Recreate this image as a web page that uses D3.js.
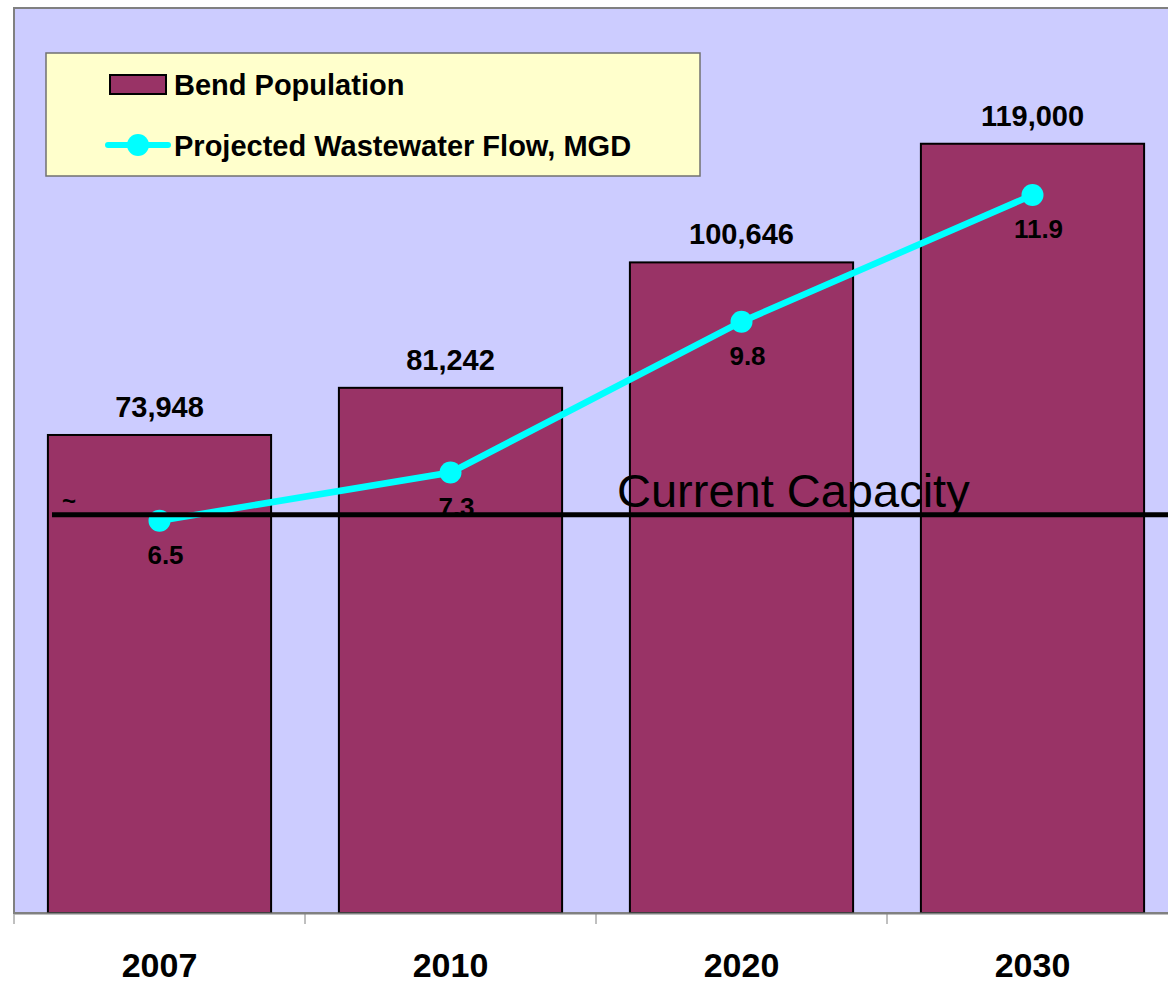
<html>
    <head>
       <style>
body {
    margin: 0;
    background: #fff;
}
svg text {
    font-family: "Liberation Sans", Arial, sans-serif;
}
       </style>
    </head>
    <body>
        <svg></svg>
        <script src="https://cdn.jsdelivr.net/npm/d3@7/dist/d3.min.js"></script>
        <script>
var years = ["2007", "2010", "2020", "2030"];
var population = [73948, 81242, 100646, 119000];
var flow = [6.5, 7.3, 9.8, 11.9];
var capacity = 6.6;
var popDomain = [0, 140000];
var flowDomain = [0, 15];

var width = 1168, height = 998;
var plotLeft = 14, plotTop = 8, plotBottom = 913, plotRight = 1178;

var svg = d3.select("svg")
    .attr("width", width)
    .attr("height", height);

var x = d3.scaleBand()
    .domain(years)
    .range([plotLeft, plotRight])
    .paddingInner(0.233)
    .paddingOuter(0.1165);

var xTick = d3.scaleBand().domain(years).range([plotLeft, plotRight]);

var y = d3.scaleLinear().domain(popDomain).range([plotBottom, plotTop]);
var y2 = d3.scaleLinear().domain(flowDomain).range([plotBottom, plotTop]);

// plot area
svg.append("rect")
    .attr("x", plotLeft).attr("y", plotTop)
    .attr("width", plotRight - plotLeft + 20).attr("height", plotBottom - plotTop)
    .attr("fill", "#ccccff")
    .attr("stroke", "#808080")
    .attr("stroke-width", 2);

// bars
svg.selectAll(".bar")
    .data(population)
  .enter().append("rect")
    .attr("class", "bar")
    .attr("x", function(d, i) { return x(years[i]); })
    .attr("y", function(d) { return y(d); })
    .attr("width", x.bandwidth())
    .attr("height", function(d) { return plotBottom - y(d); })
    .attr("fill", "#993366")
    .attr("stroke", "#000")
    .attr("stroke-width", 2);

svg.selectAll(".poplabel")
    .data(population)
  .enter().append("text")
    .attr("x", function(d, i) { return x(years[i]) + x.bandwidth() / 2; })
    .attr("y", function(d) { return y(d) - 18; })
    .attr("text-anchor", "middle")
    .attr("font-size", 29)
    .attr("font-weight", "bold")
    .text(function(d) { return d3.format(",")(d); });

// x axis
var axis = svg.append("g")
    .attr("transform", "translate(0," + plotBottom + ")")
    .call(d3.axisBottom(xTick).tickSize(0).tickPadding(40));
axis.select(".domain").attr("stroke", "#808080").attr("stroke-width", 2);
axis.selectAll("text")
    .attr("font-size", 34)
    .attr("font-weight", "bold")
    .attr("fill", "#000")
    .style("font-family", "Liberation Sans, Arial, sans-serif");
axis.selectAll(".sep")
    .data(years)
  .enter().append("line")
    .attr("x1", function(d) { return xTick(d); })
    .attr("x2", function(d) { return xTick(d); })
    .attr("y1", 0).attr("y2", 11)
    .attr("stroke", "#808080");

// flow line
var cx = function(d, i) { return x(years[i]) + x.bandwidth() / 2; };
var line = d3.line()
    .x(cx)
    .y(function(d) { return y2(d); });

svg.append("path")
    .datum(flow)
    .attr("d", line)
    .attr("fill", "none")
    .attr("stroke", "#00ffff")
    .attr("stroke-width", 6.5);

svg.selectAll(".dot")
    .data(flow)
  .enter().append("circle")
    .attr("cx", cx)
    .attr("cy", function(d) { return y2(d); })
    .attr("r", 11)
    .attr("fill", "#00ffff");

svg.selectAll(".flowlabel")
    .data(flow)
  .enter().append("text")
    .attr("x", function(d, i) { return cx(d, i) + 6; })
    .attr("y", function(d) { return y2(d) + 43; })
    .attr("text-anchor", "middle")
    .attr("font-size", 26)
    .attr("font-weight", "bold")
    .text(function(d) { return d3.format(".1f")(d); });

// current capacity
svg.append("line")
    .attr("x1", 52).attr("x2", width)
    .attr("y1", y2(capacity)).attr("y2", y2(capacity))
    .attr("stroke", "#000")
    .attr("stroke-width", 5);

svg.append("text")
    .attr("x", 617)
    .attr("y", y2(capacity) - 8)
    .attr("font-size", 47)
    .text("Current Capacity");

svg.append("text")
    .attr("x", 62)
    .attr("y", y2(capacity) - 6)
    .attr("font-size", 24)
    .attr("font-weight", "bold")
    .text("~");

// legend
var legend = svg.append("g");
legend.append("rect")
    .attr("x", 46).attr("y", 53)
    .attr("width", 654).attr("height", 123)
    .attr("fill", "#ffffcc")
    .attr("stroke", "#707070")
    .attr("stroke-width", 1.5);
legend.append("rect")
    .attr("x", 110).attr("y", 75)
    .attr("width", 56).attr("height", 19)
    .attr("fill", "#993366")
    .attr("stroke", "#000")
    .attr("stroke-width", 2);
legend.append("text")
    .attr("x", 174).attr("y", 95)
    .attr("font-size", 29)
    .attr("font-weight", "bold")
    .text("Bend Population");
legend.append("line")
    .attr("x1", 108).attr("x2", 168)
    .attr("y1", 145).attr("y2", 145)
    .attr("stroke", "#00ffff")
    .attr("stroke-width", 6)
    .attr("stroke-linecap", "round");
legend.append("circle")
    .attr("cx", 138).attr("cy", 145)
    .attr("r", 11)
    .attr("fill", "#00ffff");
legend.append("text")
    .attr("x", 174).attr("y", 156)
    .attr("font-size", 29)
    .attr("font-weight", "bold")
    .text("Projected Wastewater Flow, MGD");
        </script>
    </body>
</html>
